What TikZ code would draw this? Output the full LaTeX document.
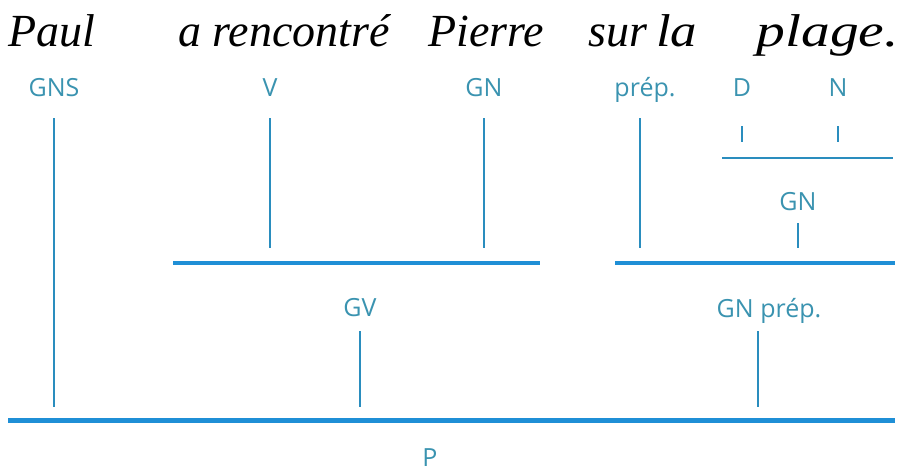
\documentclass[tikz,border=0pt]{standalone}
\usepackage{fontspec}
\setmainfont{Liberation Serif}
\newfontfamily\labfont{Open Sans}
\definecolor{linecol}{HTML}{1F8FD6}
\definecolor{stemcol}{HTML}{2A8DBE}
\definecolor{labcol}{HTML}{3A93B0}
\begin{document}
\begin{tikzpicture}[x=1pt,y=-1pt,
  word/.style={anchor=base west,inner sep=0pt,font=\fontsize{46}{46}\selectfont\itshape},
  cat/.style={anchor=base,inner sep=0pt,text=labcol,font=\labfont\fontsize{25}{25}\selectfont},
  mainbar/.style={draw=linecol,line width=5pt},
  midbar/.style={draw=linecol,line width=3.5pt},
  thinbar/.style={draw=stemcol,line width=2pt},
  stem/.style={draw=stemcol,line width=2.5pt},
  tick/.style={draw=stemcol,line width=2pt}]
\useasboundingbox (0,0) rectangle (902,472);

% the sentence
\node[word] (w1) at (8,46) {Paul};
\node[word] (w2) at (178,46) {a rencontré};
\node[word] (w3) at (428,46) {Pierre};
\node[word] (w4) at (588,46) {sur};
\node[word, xscale=1.15] (w5) at (656,46) {la};
\node[word, anchor=base east, xscale=1.25] (w6) at (899,46) {plage.};

% category labels
\node[cat] (gns) at (54,96) {GNS};
\node[cat] (v) at (270,96) {V};
\node[cat] (gnA) at (484,96) {GN};
\node[cat] (prep) at (645,96) {prép.};
\node[cat] (d) at (742,96) {D};
\node[cat] (n) at (838,96) {N};
\node[cat] (gnB) at (798,210) {GN};
\node[cat] (gv) at (360,316) {GV};
\node[cat] (gnprep) at (769,317) {GN prép.};
\node[cat] (p) at (430,466) {P};

% stem levels
\coordinate (top) at (0,118);
\coordinate (midend) at (0,248);
\coordinate (lowend) at (0,407);
\coordinate (lowtop) at (0,331);

% horizontal bars
\coordinate (vbL) at (173,263);
\coordinate (vbR) at (540,263);
\coordinate (pbL) at (615,263);
\coordinate (pbR) at (895,263);
\coordinate (dnL) at (722,158);
\coordinate (dnR) at (893,158);
\coordinate (sL) at (8,420);
\coordinate (sR) at (895,420);
\draw[mainbar] (sL) -- (sR);
\draw[midbar] (vbL) -- (vbR);
\draw[midbar] (pbL) -- (pbR);
\draw[thinbar] (dnL) -- (dnR);

% stems
\draw[stem] (gns.base |- top) -- (gns.base |- lowend);
\draw[stem] (v.base |- top) -- (v.base |- midend);
\draw[stem] (gnA.base |- top) -- (gnA.base |- midend);
\draw[stem] ([xshift=-5pt]prep.base |- top) -- ([xshift=-5pt]prep.base |- midend);
\draw[tick] ([yshift=-30pt]d.base) -- ([yshift=-46pt]d.base);
\draw[tick] ([yshift=-30pt]n.base) -- ([yshift=-46pt]n.base);
\draw[tick] ([yshift=-13pt]gnB.base) -- (gnB.base |- midend);
\draw[stem] (gv.base |- lowtop) -- (gv.base |- lowend);
\draw[stem] ([xshift=-11pt]gnprep.base |- lowtop) -- ([xshift=-11pt]gnprep.base |- lowend);
\end{tikzpicture}
\end{document}
